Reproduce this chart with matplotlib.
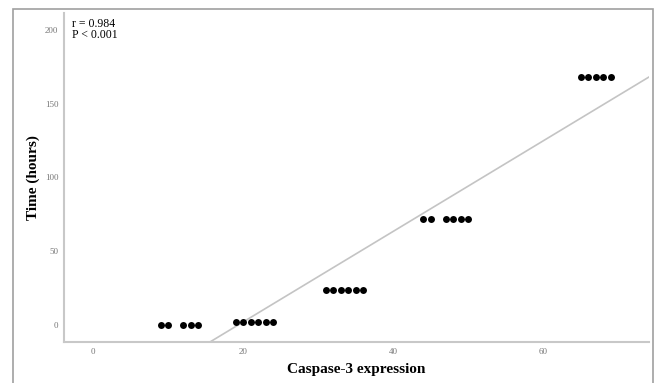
import numpy as np
import matplotlib
matplotlib.use("Agg")
import matplotlib.pyplot as plt
from matplotlib.patches import Rectangle

# Caspase-3 expression vs time
caspase = [9, 10, 12, 13, 14,
           19, 20, 21, 22, 23, 24,
           31, 32, 33, 34, 35, 36,
           44, 45, 47, 48, 49, 50,
           65, 66, 67, 68, 69]
hours = [0, 0, 0, 0, 0,
         2, 2, 2, 2, 2, 2,
         24, 24, 24, 24, 24, 24,
         72, 72, 72, 72, 72, 72,
         168, 168, 168, 168, 168]
x_ticks = [0, 20, 40, 60]
y_ticks = [0, 50, 100, 150, 200]
stats_text = "r = 0.984\nP < 0.001"

plt.rcParams["font.family"] = ["Liberation Serif", "DejaVu Serif"]

fig = plt.figure(figsize=(6.55, 3.83), dpi=100)

# outer grey frame
fig.patches.append(Rectangle((13 / 655, -0.05), (653 - 13) / 655, 1.05 - 9 / 383,
                             transform=fig.transFigure, fill=False,
                             edgecolor="#a0a0a0", linewidth=1.2))

ax = fig.add_axes([64 / 655, 41 / 383, (649 - 64) / 655, (342 - 13) / 383])

xlim = (-3.9, 74.1)
ylim = (-11.5, 211.5)

# least-squares line across the whole x range, clipped by the axes
slope, intercept = np.polyfit(caspase, hours, 1)
xs = np.array(xlim)
ax.plot(xs, slope * xs + intercept, color="#c4c4c4", linewidth=1.2, zorder=1)

ax.scatter(caspase, hours, s=25, color="black", zorder=2, linewidths=0)

ax.set_xlim(*xlim)
ax.set_ylim(*ylim)
ax.set_xticks(x_ticks)
ax.set_yticks(y_ticks)
ax.tick_params(length=0, labelsize=6.5, labelcolor="#777777", pad=4)

for side in ("top", "right"):
    ax.spines[side].set_visible(False)
for side in ("left", "bottom"):
    ax.spines[side].set_color("#c8c8c8")
    ax.spines[side].set_linewidth(1.5)

ax.set_xlabel("Caspase-3 expression", fontsize=11, fontweight="bold", va="center")
ax.set_ylabel("Time (hours)", fontsize=11, fontweight="bold", va="center")
ax.xaxis.set_label_coords(0.5, (342 - 370) / 329)
ax.yaxis.set_label_coords((33 - 64) / 585, 0.5)

ax.text(0.014, 0.985, stats_text, transform=ax.transAxes, fontsize=8.5,
        va="top", ha="left", linespacing=0.95)

fig.savefig("out.png", dpi=100)
